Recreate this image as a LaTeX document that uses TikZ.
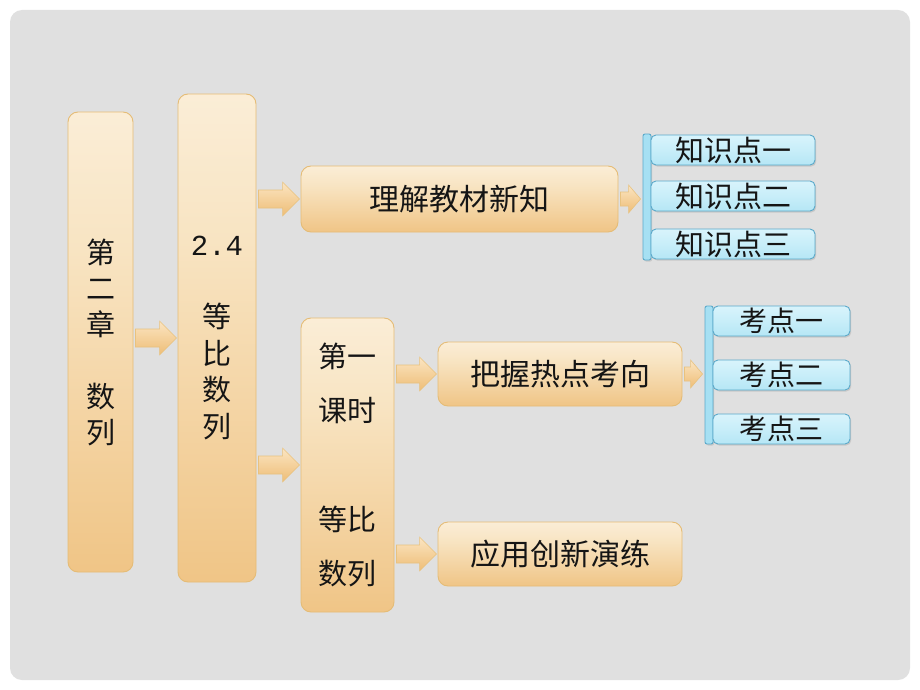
\documentclass[tikz,border=0pt]{standalone}
\usepackage{fontspec}
\newfontfamily\cjk{Noto Sans CJK SC}
\newfontfamily\monof{Liberation Mono}
\usetikzlibrary{calc,shadows}
\definecolor{bggray}{HTML}{E0E0E0}
\definecolor{og0}{HTML}{FFFDF9}
\definecolor{og1}{HTML}{F8E4C2}
\definecolor{og2}{HTML}{EFC281}
\definecolor{og3}{HTML}{F6DDB2}
\definecolor{obord}{HTML}{E5BC76}
\definecolor{ar0}{HTML}{FBE5C2}
\definecolor{ar1}{HTML}{EEBD76}
\definecolor{arline}{HTML}{E8C27F}
\definecolor{bl0}{HTML}{E8F9FE}
\definecolor{bl1}{HTML}{C8EEF9}
\definecolor{bl2}{HTML}{A2DEF1}
\definecolor{bbord}{HTML}{5AA9CA}
\definecolor{barfill}{HTML}{A6E0F3}
\definecolor{txt}{HTML}{151515}
\pgfdeclareverticalshading{orangegrad}{100bp}{color(0bp)=(og3); color(22bp)=(og2); color(60bp)=(og1); color(100bp)=(og0)}
\pgfdeclareverticalshading{bluegrad}{100bp}{color(0bp)=(bl2); color(50bp)=(bl1); color(100bp)=(bl0)}
\tikzset{
  obox/.style={draw=obord, line width=0.9pt, rounded corners=10pt, shading=orangegrad,
    align=center, text=txt, inner sep=0pt},
  bbox/.style={draw=bbord, line width=0.9pt, rounded corners=5pt, shading=bluegrad,
    align=center, text=txt, inner sep=0pt, minimum height=30pt,
    drop shadow={opacity=0.25, shadow xshift=1.2pt, shadow yshift=-1.5pt}},
  bbar/.style={draw=bbord, line width=0.9pt, rounded corners=2pt, fill=barfill, inner sep=0pt,
    minimum width=8pt,
    drop shadow={opacity=0.25, shadow xshift=1.2pt, shadow yshift=-1.5pt}},
  bigarrow/.style={draw=arline, line width=0.6pt, top color=ar0, bottom color=ar1,
    to path={let \p1=(\tikztostart), \p2=(\tikztotarget) in
      (\x1+2pt,\y2+9pt) -- (\x2-18pt,\y2+9pt) -- (\x2-18pt,\y2+17pt) -- (\x2-1pt,\y2)
      -- (\x2-18pt,\y2-17pt) -- (\x2-18pt,\y2-9pt) -- (\x1+2pt,\y2-9pt) -- cycle}},
  smallarrow/.style={draw=arline, line width=0.6pt, top color=ar0, bottom color=ar1,
    to path={let \p1=(\tikztostart), \p2=(\tikztotarget) in
      (\x1+2pt,\y2+7pt) -- (\x2-14pt,\y2+7pt) -- (\x2-14pt,\y2+14pt) -- (\x2-2pt,\y2)
      -- (\x2-14pt,\y2-14pt) -- (\x2-14pt,\y2-7pt) -- (\x1+2pt,\y2-7pt) -- cycle}},
}
\begin{document}
\begin{tikzpicture}[x=1pt,y=-1pt]
\useasboundingbox (0,0) rectangle (920,690);
\fill[white] (0,0) rectangle (920,690);
\fill[bggray, rounded corners=12pt] (10,10) rectangle (910,680);

% main boxes
\node[obox, minimum width=65pt, minimum height=460pt, font=\cjk\fontsize{29}{36}\selectfont]
  (c1) at (100.5,342) {第\\二\\章\\[36pt]数\\列};
\node[obox, minimum width=78pt, minimum height=488pt, font=\cjk\fontsize{29}{36.5}\selectfont]
  (c2) at (217,338) {{\monof 2.4}\\[36pt]等\\比\\数\\列};
\node[obox, minimum width=317pt, minimum height=66pt, font=\cjk\fontsize{30}{36}\selectfont]
  (t1) at (459.5,199) {理解教材新知};
\node[obox, minimum width=93pt, minimum height=294pt, font=\cjk\fontsize{29}{54.5}\selectfont]
  (k1) at (347.5,465) {第一\\课时\\[54pt]等比\\数列};
\node[obox, minimum width=244pt, minimum height=64pt, font=\cjk\fontsize{30}{36}\selectfont]
  (t2) at (560,374) {把握热点考向};
\node[obox, minimum width=244pt, minimum height=64pt, font=\cjk\fontsize{30}{36}\selectfont]
  (t3) at (560,554) {应用创新演练};

% blue groups
\node[bbar, minimum height=126pt] (b1) at (647,197) {};
\node[bbox, minimum width=164pt, font=\cjk\fontsize{29}{30}\selectfont] (z1) at (733,150) {知识点一};
\node[bbox, minimum width=164pt, font=\cjk\fontsize{29}{30}\selectfont] (z2) at (733,196) {知识点二};
\node[bbox, minimum width=164pt, font=\cjk\fontsize{29}{30}\selectfont] (z3) at (733,244) {知识点三};

\node[bbar, minimum height=138pt] (b2) at (709,375) {};
\node[bbox, minimum width=137pt, font=\cjk\fontsize{28}{30}\selectfont] (q1) at (781.5,321) {考点一};
\node[bbox, minimum width=137pt, font=\cjk\fontsize{28}{30}\selectfont] (q2) at (781.5,375) {考点二};
\node[bbox, minimum width=137pt, font=\cjk\fontsize{28}{30}\selectfont] (q3) at (781.5,429) {考点三};

% arrows
\path[bigarrow] (c1.east |- c2.west) to (c2.west);
\path[bigarrow] (c2.east |- t1.west) to (t1.west);
\path[bigarrow] (c2.east |- k1.west) to (k1.west);
\path[bigarrow] (k1.east |- t2.west) to (t2.west);
\path[bigarrow] (k1.east |- t3.west) to (t3.west);
\path[smallarrow] (t1.east) to (b1.west |- t1.east);
\path[smallarrow] (t2.east) to (b2.west |- t2.east);
\end{tikzpicture}
\end{document}
